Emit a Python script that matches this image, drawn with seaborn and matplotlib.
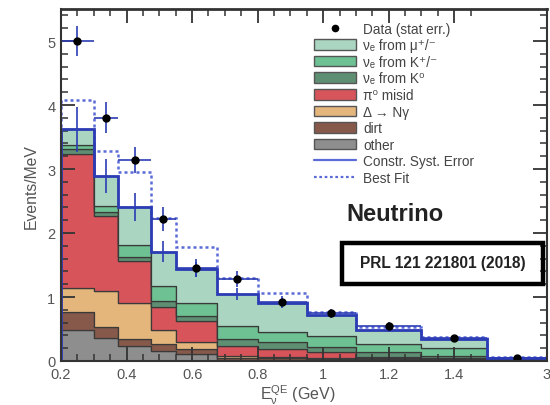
import numpy as np
import pandas as pd
import matplotlib
matplotlib.use("Agg")
import matplotlib.pyplot as plt
import seaborn as sns
from matplotlib.lines import Line2D
from matplotlib.patches import Patch, Rectangle
from matplotlib.legend_handler import HandlerPatch
from matplotlib.ticker import FixedLocator, MultipleLocator

# ---------------- data ----------------
bin_edges = [0.2, 0.3, 0.375, 0.475, 0.55, 0.675, 0.8, 0.95, 1.1, 1.3, 1.5, 3.0]

nue_mu   = [0.25, 0.47, 0.59, 0.54, 0.53, 0.51, 0.46, 0.33, 0.22, 0.14, 0.015]
nue_kpm  = [0.05, 0.09, 0.19, 0.23, 0.20, 0.19, 0.16, 0.17, 0.13, 0.13, 0.010]
nue_k0   = [0.09, 0.06, 0.06, 0.09, 0.07, 0.11, 0.10, 0.08, 0.07, 0.03, 0.005]
pi0_mis  = [2.09, 1.17, 0.67, 0.37, 0.34, 0.16, 0.13, 0.09, 0.03, 0.015, 0.003]
delta_ng = [0.37, 0.57, 0.56, 0.22, 0.10, 0.03, 0.02, 0.015, 0.015, 0.01, 0.002]
dirt     = [0.28, 0.17, 0.11, 0.10, 0.08, 0.03, 0.02, 0.02, 0.015, 0.015, 0.005]
other    = [0.49, 0.36, 0.23, 0.16, 0.11, 0.02, 0.02, 0.015, 0.01, 0.01, 0.005]

syst_err  = [0.35, 0.26, 0.22, 0.17, 0.12, 0.09, 0.07, 0.05, 0.04, 0.03, 0.01]
best_fit  = [4.08, 3.28, 2.95, 2.23, 1.78, 1.30, 1.06, 0.77, 0.53, 0.37, 0.055]
data_vals = [5.00, 3.80, 3.14, 2.22, 1.45, 1.28, 0.92, 0.75, 0.55, 0.36, 0.05]
data_err  = [0.24, 0.24, 0.21, 0.19, 0.14, 0.12, 0.09, 0.07, 0.06, 0.04, 0.02]

comp_labels = ["νₑ from μ⁺/⁻", "νₑ from K⁺/⁻", "νₑ from K⁰",
               "π⁰ misid", "Δ → Nγ", "dirt", "other"]
comp_values = [nue_mu, nue_kpm, nue_k0, pi0_mis, delta_ng, dirt, other]
comp_colors = ["#a9d5c1", "#6dc192", "#5f8f73", "#d6545a", "#e4b67c", "#87594a", "#8e8e8e"]

xtick_vals = [0.2, 0.4, 0.6, 0.8, 1.0, 1.2, 1.4, 3.0]
xtick_labels = ["0.2", "0.4", "0.6", "0.8", "1", "1.2", "1.4", "3"]

# ---------------- setup ----------------
sns.set_theme(style="ticks")
plt.rcParams['font.family'] = ['Liberation Sans', 'DejaVu Sans']
plt.rcParams['mathtext.fontset'] = 'custom'
plt.rcParams['mathtext.rm'] = 'Liberation Sans'
plt.rcParams['mathtext.it'] = 'Liberation Sans'
plt.rcParams['mathtext.bf'] = 'Liberation Sans:bold'
plt.rcParams.update({
    'axes.axisbelow': False,
    'xtick.direction': 'in', 'ytick.direction': 'in',
    'xtick.top': True, 'xtick.bottom': True, 'ytick.left': True, 'ytick.right': True,
    'xtick.color': '#333', 'ytick.color': '#333',
})

edges = np.array(bin_edges)
centers = 0.5 * (edges[:-1] + edges[1:])
halfw = 0.5 * np.diff(edges)

rows = []
for lab, vals in zip(comp_labels, comp_values):
    for c, v in zip(centers, vals):
        rows.append({"E": c, "w": v, "comp": lab})
df = pd.DataFrame(rows)
total = np.sum(np.array(comp_values), axis=0)

fig = plt.figure(figsize=(5.5, 4.06), dpi=100)
ax = fig.add_axes([61 / 550, 1 - 362 / 406, (547 - 61) / 550, (362 - 10) / 406])
ax.set_axisbelow(False)

K = 0.122
def fwd(x):
    x = np.asarray(x, dtype=float)
    return np.where(x <= 1.5, x, 1.5 + (x - 1.5) * K)
def inv(u):
    u = np.asarray(u, dtype=float)
    return np.where(u <= 1.5, u, 1.5 + (u - 1.5) / K)
ax.set_xscale('function', functions=(fwd, inv))

sns.histplot(data=df, x="E", weights="w", hue="comp", hue_order=comp_labels,
             palette=dict(zip(comp_labels, comp_colors)), multiple="stack",
             bins=bin_edges, element="step", fill=True, alpha=1,
             edgecolor="#3a3a3a", linewidth=0.9, legend=False, ax=ax)

blue = "#2c3cb4"
lblue = "#5a6ad6"
ax.stairs(best_fit, bin_edges, baseline=0, color=lblue, lw=1.8,
          linestyle=(0, (1.2, 1.2)), fill=False, zorder=4)
ax.stairs(total, bin_edges, baseline=0, color=blue, lw=2.0, fill=False, zorder=5)
ax.errorbar(centers, total, yerr=syst_err, fmt='none', ecolor=blue, elinewidth=1.2,
            capsize=0, zorder=5)
ax.errorbar(centers, data_vals, yerr=data_err, xerr=halfw, fmt='o', color='black',
            ms=5, ecolor=blue, elinewidth=1.2, capsize=0, zorder=6)

ax.set_xlim(0.2, 3.0)
ax.set_ylim(0, 5.5)
ax.set_xticks(xtick_vals)
ax.set_xticklabels(xtick_labels)
ax.xaxis.set_minor_locator(FixedLocator([v for v in np.arange(0.25, 1.5, 0.05)]))
ax.yaxis.set_major_locator(MultipleLocator(1))
ax.yaxis.set_minor_locator(MultipleLocator(0.2))
ax.tick_params(which='both', direction='in', top=True, right=True, bottom=True, left=True,
               color='#333', labelcolor='#555', labelsize=10.5, zorder=20)
ax.tick_params(which='major', length=10, width=1.3)
ax.tick_params(which='minor', length=5, width=1.1)
ax.tick_params(axis='x', which='major', pad=4.5)
ax.tick_params(axis='y', which='major', pad=4)
for s in ax.spines.values():
    s.set_visible(True)
    s.set_color('#333')
    s.set_linewidth(1.5)
    s.set_zorder(20)
ax.spines['top'].set_linewidth(2.0)
ax.set_xlabel("")
ax.set_ylabel("")

fig.text(31 / 550, 1 - 187 / 406, "Events/MeV", rotation=90, ha='center', va='center',
         fontsize=11.3, color='#555')
fig.text(298 / 550, 1 - 395 / 406, r"E$_\nu^{\rm QE}$ (GeV)", ha='center', va='center',
         fontsize=11.5, color='#555')


def small_rect(legend, orig_handle, xdescent, ydescent, width, height, fontsize):
    h = 0.78 * fontsize
    return Rectangle((-xdescent, -ydescent + (height - h) / 2), width, h)


handles = [Line2D([], [], marker='o', color='black', ls='none', ms=4.5)]
handles += [Patch(facecolor=c, edgecolor='#555', lw=1.0) for c in comp_colors]
handles += [Line2D([], [], color=lblue, lw=1.6),
            Line2D([], [], color=lblue, lw=1.6, linestyle=(0, (1.2, 1.2)))]
leg_labels = ["Data (stat err.)"] + comp_labels + ["Constr. Syst. Error", "Best Fit"]
leg = ax.legend(handles, leg_labels, loc='upper left', bbox_to_anchor=(0.52, 0.964),
                frameon=False, fontsize=9.8, handlelength=3.1, handleheight=0.75,
                labelspacing=0.19, handletextpad=0.55, borderpad=0, borderaxespad=0,
                handler_map={Patch: HandlerPatch(patch_func=small_rect)})
for t in leg.get_texts():
    t.set_color('#444')

fig.text(395 / 550, 1 - 215 / 406, "Neutrino", ha='center', va='center', fontsize=17,
         fontweight='bold', color='#222')
fig.patches.append(Rectangle((342 / 550, 1 - 285 / 406), 201 / 550, 41 / 406,
                             transform=fig.transFigure, fill=False, lw=3.2,
                             edgecolor='black', zorder=10))
fig.text(443 / 550, 1 - 264 / 406, "PRL 121 221801 (2018)", ha='center', va='center',
         fontsize=11.2, fontweight='bold', color='#222')

fig.savefig("out.png", dpi=100, facecolor='white')
